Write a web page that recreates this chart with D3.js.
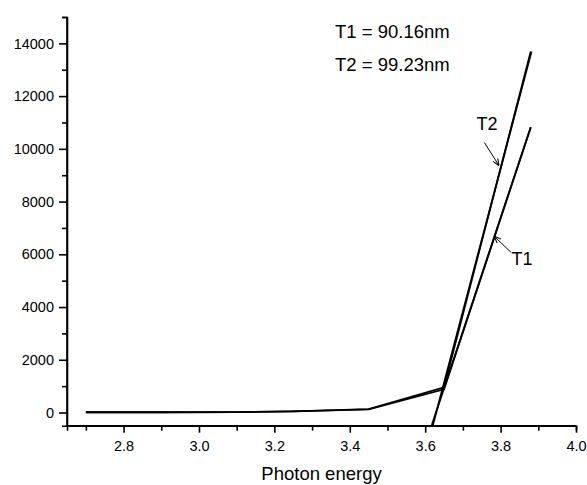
<!DOCTYPE html>
<html>
<head>
<meta charset="utf-8">
<script src="https://cdn.jsdelivr.net/npm/d3@7"></script>
<style>
  body { margin: 0; background: #fff; }
  svg { display: block; }
  text { font-family: Arial, "Liberation Sans", sans-serif; fill: #000; }
  .axis path, .axis line { stroke: #000; stroke-width: 1.6; }
</style>
</head>
<body>
<div id="chart"></div>
<script>
// Photon energy points (eV)
const energy = [2.7, 2.9, 3.1, 3.25, 3.45, 3.65, 3.88];
// measured curves
const t1 = [10, 10, 15, 40, 120, 880, 10820];
const t2 = [10, 10, 15, 40, 130, 955, 13690];
// linear fits extrapolated down to the axis
const fitX1 = [3.617, 3.88];
const fitY1 = [-500, 10820];
const fitX2 = [3.62, 3.882];
const fitY2 = [-500, 13690];

const xTicks = [2.8, 3.0, 3.2, 3.4, 3.6, 3.8, 4.0];
const yTicks = [0, 2000, 4000, 6000, 8000, 10000, 12000, 14000];
const notes = ["T1 = 90.16nm", "T2 = 99.23nm"];

// chart size
const w = 587;
const h = 485;

const svg = d3.select("#chart").append("svg")
              .attr("width", w)
              .attr("height", h);

const xScale = d3.scaleLinear()
                 .domain([2.65, 4.0])
                 .range([67, 576]);
const yScale = d3.scaleLinear()
                 .domain([-500, 15000])
                 .range([425.7, 17]);

// minor ticks (no labels)
const xMinor = d3.axisBottom(xScale)
                 .tickValues(d3.range(2.7, 4.0, 0.2))
                 .tickSize(5)
                 .tickFormat("");
const yMinor = d3.axisLeft(yScale)
                 .tickValues(d3.range(1000, 15001, 2000))
                 .tickSize(5)
                 .tickFormat("");

svg.append("g")
   .attr("class", "axis")
   .attr("transform", "translate(0," + yScale.range()[0] + ")")
   .call(xMinor);
svg.append("g")
   .attr("class", "axis")
   .attr("transform", "translate(" + xScale.range()[0] + ",0)")
   .call(yMinor);

// major ticks
const xAxis = d3.axisBottom(xScale)
                .tickValues(xTicks)
                .tickSize(7)
                .tickPadding(8)
                .tickFormat(d3.format(".1f"));
const yAxis = d3.axisLeft(yScale)
                .tickValues(yTicks)
                .tickSize(8)
                .tickPadding(5)
                .tickFormat(d => d);

svg.append("g")
   .attr("class", "axis")
   .attr("transform", "translate(0," + yScale.range()[0] + ")")
   .call(xAxis)
   .call(g => g.select(".domain").attr("d", "M" + xScale.range()[0] + ",0H" + xScale.range()[1]))
   .selectAll("text")
   .style("font-size", "14.5px")
   .style("font-family", "Arial, 'Liberation Sans', sans-serif");

svg.append("g")
   .attr("class", "axis")
   .attr("transform", "translate(" + xScale.range()[0] + ",0)")
   .call(yAxis)
   .call(g => g.select(".domain").attr("d", "M0," + yScale.range()[0] + "V" + yScale.range()[1]))
   .selectAll("text")
   .style("font-size", "14.5px")
   .style("font-family", "Arial, 'Liberation Sans', sans-serif");

// curves
const line = d3.line()
               .x(d => xScale(d[0]))
               .y(d => yScale(d[1]));

const series = [
  d3.zip(energy, t1),
  d3.zip(energy, t2),
  d3.zip(fitX1, fitY1),
  d3.zip(fitX2, fitY2)
];

svg.selectAll("path.curve")
   .data(series)
   .enter()
   .append("path")
   .attr("class", "curve")
   .attr("d", line)
   .attr("fill", "none")
   .attr("stroke", "#000")
   .attr("stroke-width", 1.8);

// arrow marker
svg.append("defs").append("marker")
   .attr("id", "arrow")
   .attr("viewBox", "0 0 10 10")
   .attr("refX", 9)
   .attr("refY", 5)
   .attr("markerWidth", 7)
   .attr("markerHeight", 7)
   .attr("orient", "auto")
   .append("path")
   .attr("d", "M0,1L10,5L0,9")
   .attr("fill", "none")
   .attr("stroke", "#000")
   .attr("stroke-width", 1.5);

// labels with arrows
const labels = [
  { text: "T2", x: 3.736, y: 10720, from: [3.757, 10240], to: [3.795, 9380] },
  { text: "T1", x: 3.829, y: 5600, from: [3.828, 6070], to: [3.784, 6670] }
];

labels.forEach(l => {
  svg.append("line")
     .attr("x1", xScale(l.from[0]))
     .attr("y1", yScale(l.from[1]))
     .attr("x2", xScale(l.to[0]))
     .attr("y2", yScale(l.to[1]))
     .attr("stroke", "#000")
     .attr("stroke-width", 1)
     .attr("marker-end", "url(#arrow)");
  svg.append("text")
     .text(l.text)
     .attr("x", xScale(l.x))
     .attr("y", yScale(l.y))
     .style("font-size", "18px");
});

// thickness notes
svg.selectAll("text.note")
   .data(notes)
   .enter()
   .append("text")
   .attr("class", "note")
   .text(d => d)
   .attr("x", 335)
   .attr("y", (d, i) => 38 + i * 33)
   .style("font-size", "18.5px");

// x label
svg.append("text")
   .text("Photon energy")
   .attr("x", 321.5)
   .attr("y", 480)
   .attr("text-anchor", "middle")
   .style("font-size", "18.5px");
</script>
</body>
</html>
